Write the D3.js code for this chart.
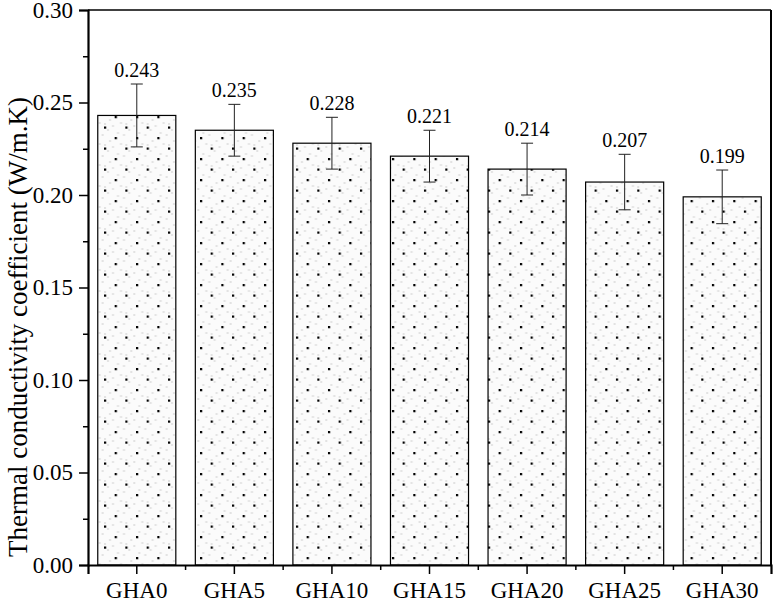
<!DOCTYPE html>
<html>
<head>
<meta charset="utf-8">
<script src="https://d3js.org/d3.v7.min.js"></script>
<style>
  body { margin: 0; background: #fff; }
  text { font-family: "Liberation Serif", "Times New Roman", serif; fill: #000; }
</style>
</head>
<body>
<div id="chart"></div>
<script>

// categories, values and error amplitudes
var categories = ["GHA0", "GHA5", "GHA10", "GHA15", "GHA20", "GHA25", "GHA30"];
var values = [0.243, 0.235, 0.228, 0.221, 0.214, 0.207, 0.199];
var errors = [0.017, 0.014, 0.014, 0.014, 0.014, 0.015, 0.0145];
var yTicks = [0.00, 0.05, 0.10, 0.15, 0.20, 0.25, 0.30];

var width = 773, height = 601;
var margin = {top: 10, right: 2, bottom: 36, left: 88};

var svg = d3.select("#chart").append("svg")
    .attr("width", width)
    .attr("height", height);

// dotted fill of the bars
var defs = svg.append("defs");
var pat = defs.append("pattern")
    .attr("id", "dots")
    .attr("patternUnits", "userSpaceOnUse")
    .attr("width", 21.33)
    .attr("height", 21)
    .attr("x", 104)
    .attr("y", 305);
pat.append("rect").attr("width", 21.33).attr("height", 21).attr("fill", "#fbfbfb");
// faint grey speckles
[[5, 3], [16, 6], [3, 13], [13, 16], [8, 9], [19, 18], [0, 7], [11, 1]].forEach(function(p) {
  pat.append("rect").attr("x", p[0]).attr("y", p[1]).attr("width", 2).attr("height", 2).attr("fill", "#e2e2e2");
});
pat.append("rect").attr("x", 0).attr("y", 10.5).attr("width", 2.2).attr("height", 2.2).attr("fill", "#000");
pat.append("rect").attr("x", 10.66).attr("y", 0).attr("width", 2.2).attr("height", 2.2).attr("fill", "#000");

var x = d3.scaleBand()
    .domain(categories)
    .range([margin.left, width - margin.right])
    .paddingInner(0.2)
    .paddingOuter(0.1);

var y = d3.scaleLinear()
    .domain([0, 0.30])
    .range([height - margin.bottom, margin.top]);

var g = svg.append("g");

// bars
g.selectAll("rect.bar")
  .data(values)
  .enter().append("rect")
    .attr("class", "bar")
    .attr("x", (d, i) => x(categories[i]))
    .attr("y", d => y(d))
    .attr("width", x.bandwidth())
    .attr("height", d => y(0) - y(d))
    .attr("fill", "url(#dots)")
    .attr("stroke", "#000")
    .attr("stroke-width", 1.2);

// error bars
var cap = 6;
var eb = g.selectAll("g.err")
  .data(values)
  .enter().append("g")
    .attr("class", "err")
    .attr("stroke", "#222")
    .attr("stroke-width", 1);
eb.append("line")
    .attr("x1", (d, i) => x(categories[i]) + x.bandwidth() / 2)
    .attr("x2", (d, i) => x(categories[i]) + x.bandwidth() / 2)
    .attr("y1", (d, i) => y(d + errors[i]))
    .attr("y2", (d, i) => y(d - errors[i]));
eb.append("line")
    .attr("x1", (d, i) => x(categories[i]) + x.bandwidth() / 2 - cap)
    .attr("x2", (d, i) => x(categories[i]) + x.bandwidth() / 2 + cap)
    .attr("y1", (d, i) => y(d + errors[i]))
    .attr("y2", (d, i) => y(d + errors[i]));
eb.append("line")
    .attr("x1", (d, i) => x(categories[i]) + x.bandwidth() / 2 - cap)
    .attr("x2", (d, i) => x(categories[i]) + x.bandwidth() / 2 + cap)
    .attr("y1", (d, i) => y(d - errors[i]))
    .attr("y2", (d, i) => y(d - errors[i]));

// value labels
g.selectAll("text.val")
  .data(values)
  .enter().append("text")
    .attr("class", "val")
    .attr("x", (d, i) => x(categories[i]) + x.bandwidth() / 2)
    .attr("y", (d, i) => y(d + errors[i]) - 7)
    .attr("text-anchor", "middle")
    .style("font-size", "20px")
    .text(d => d.toFixed(3));

// frame (top and right)
svg.append("line")
    .attr("x1", margin.left).attr("x2", width - margin.right)
    .attr("y1", margin.top).attr("y2", margin.top)
    .attr("stroke", "#000").attr("stroke-width", 1.3);
svg.append("line")
    .attr("x1", width - margin.right).attr("x2", width - margin.right)
    .attr("y1", margin.top).attr("y2", height - margin.bottom)
    .attr("stroke", "#000").attr("stroke-width", 2);

// y axis, major + minor ticks
svg.append("g")
    .attr("transform", "translate(" + margin.left + ",0)")
    .call(d3.axisLeft(y).tickValues(yTicks).tickFormat(d3.format(".2f")).tickSize(9).tickPadding(6));
svg.append("g")
    .attr("transform", "translate(" + margin.left + ",0)")
    .call(d3.axisLeft(y).tickValues(d3.range(0.025, 0.3, 0.05)).tickFormat("").tickSize(5))
    .select(".domain").remove();

// x axis, ticks at category centres, minor ticks between
svg.append("g")
    .attr("transform", "translate(0," + (height - margin.bottom) + ")")
    .call(d3.axisBottom(x).tickSize(9).tickPadding(8));
var step = x.step();
var boundaries = categories.slice(1).map(c => x(c) - (step - x.bandwidth()) / 2);
svg.append("g").selectAll("line")
  .data(boundaries)
  .enter().append("line")
    .attr("x1", d => d).attr("x2", d => d)
    .attr("y1", height - margin.bottom).attr("y2", height - margin.bottom + 5)
    .attr("stroke", "#000").attr("stroke-width", 1.5);

svg.selectAll(".domain").attr("stroke-width", 2.2).attr("stroke", "#000");
svg.selectAll(".tick line").attr("stroke-width", 1.5).attr("stroke", "#000");
svg.selectAll(".tick text")
    .style("font-family", "'Liberation Serif', 'Times New Roman', serif")
    .style("font-size", "23px")
    .attr("fill", "#000");

// y axis title
svg.append("text")
    .attr("transform", "translate(27,327) rotate(-90)")
    .attr("text-anchor", "middle")
    .style("font-size", "27px")
    .text("Thermal conductivity coefficient (W/m.K)");

</script>
</body>
</html>
